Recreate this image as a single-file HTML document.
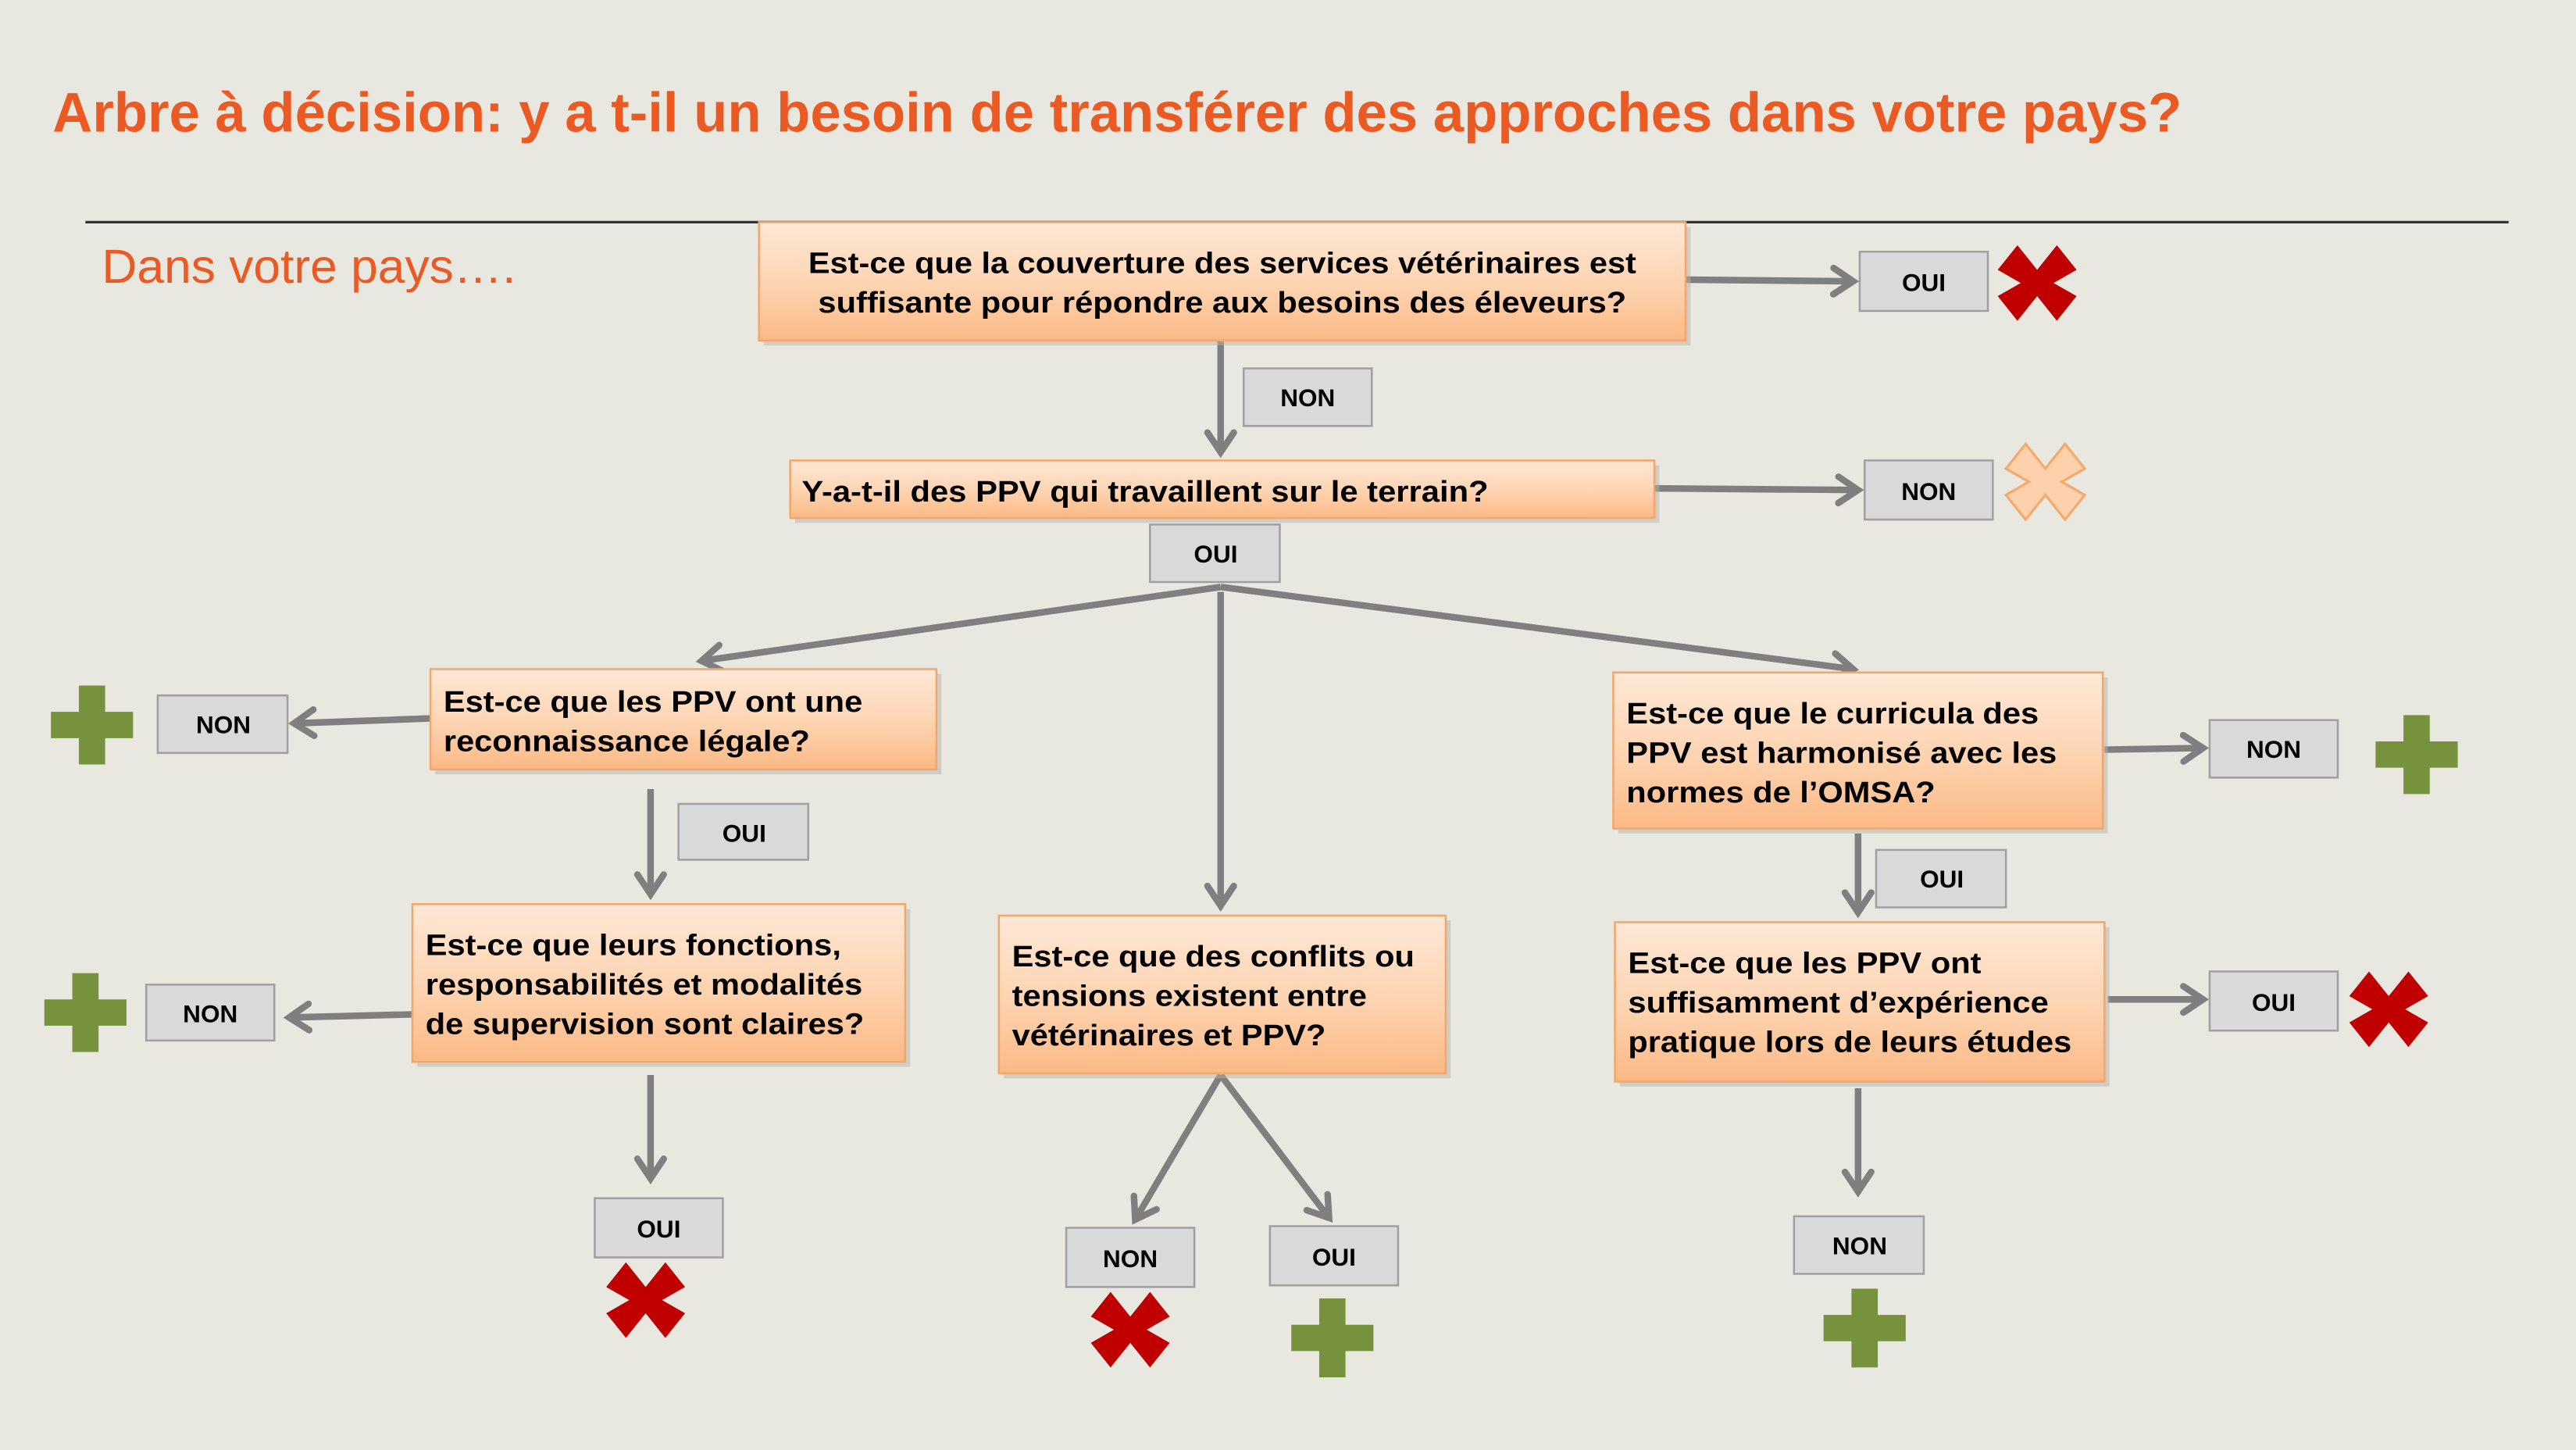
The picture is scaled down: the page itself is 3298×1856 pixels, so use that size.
<!DOCTYPE html>
<html><head><meta charset="utf-8"><style>
html,body{margin:0;padding:0;background:#e8e7e0;}
svg{display:block}
</style></head><body>
<svg width="3298" height="1856" viewBox="0 0 1568 882" xmlns="http://www.w3.org/2000/svg" font-family="Liberation Sans, Arial, sans-serif">
<defs>
<linearGradient id="og" x1="0" y1="0" x2="0" y2="1">
<stop offset="0" stop-color="#fee8d6"/><stop offset="0.55" stop-color="#fdd3b0"/><stop offset="1" stop-color="#fbb985"/>
</linearGradient>
<marker id="ah" markerWidth="30" markerHeight="30" refX="14" refY="10" orient="auto" markerUnits="userSpaceOnUse">
<polyline points="2,2 14,10 2,18" fill="none" stroke="#7f7f7f" stroke-width="4" stroke-linecap="round" stroke-linejoin="miter"/>
</marker>
<g id="x"><polygon points="-12,-23 0,-8 12,-23 24,-8 10,0 24,8 12,23 0,8 -12,23 -24,8 -10,0 -24,-8"/></g>
<g id="p"><polygon points="-8,-24 8,-24 8,-8 25,-8 25,8 8,8 8,24 -8,24 -8,8 -25,8 -25,-8 -8,-8" fill="#76923c"/></g>
</defs>
<rect width="1568" height="882" fill="#e8e7e0"/>
<text x="32" y="80" font-size="34" font-weight="bold" fill="#ec5a24" textLength="1296" lengthAdjust="spacingAndGlyphs">Arbre à décision: y a t-il un besoin de transférer des approches dans votre pays?</text>
<line x1="52" y1="135" x2="1527" y2="135" stroke="#333" stroke-width="1.5"/>
<text x="62" y="172" font-size="29" fill="#ec5a24" textLength="252" lengthAdjust="spacingAndGlyphs">Dans votre pays….</text>

<g stroke="#7f7f7f" stroke-width="4" fill="none" marker-end="url(#ah)">
<line x1="1026" y1="170" x2="1128" y2="171"/>
<line x1="743" y1="207" x2="743" y2="275"/>
<line x1="1007" y1="297" x2="1131" y2="298"/>
<line x1="743" y1="357" x2="427" y2="402"/>
<line x1="743" y1="360" x2="743" y2="551"/>
<line x1="743" y1="357" x2="1128" y2="407"/>
<line x1="262" y1="437" x2="179" y2="440"/>
<line x1="396" y1="480" x2="396" y2="544"/>
<line x1="255" y1="617" x2="176" y2="619"/>
<line x1="1281" y1="456" x2="1341" y2="455"/>
<line x1="1131" y1="507" x2="1131" y2="555"/>
<line x1="1283" y1="608" x2="1341" y2="608"/>
<line x1="396" y1="654" x2="396" y2="717"/>
<line x1="743" y1="654" x2="691" y2="742"/>
<line x1="743" y1="654" x2="809" y2="741"/>
<line x1="1131" y1="662" x2="1131" y2="725"/>
</g>

<g stroke="#f4a56a" stroke-width="1.2">
<rect x="465" y="138" width="564" height="72" fill="#b8b4aa" stroke="none" opacity="0.5"/>
<rect x="462" y="135" width="564" height="72" fill="url(#og)"/>
<rect x="484" y="283" width="526" height="35" fill="#b8b4aa" stroke="none" opacity="0.5"/>
<rect x="481" y="280" width="526" height="35" fill="url(#og)"/>
<rect x="265" y="410" width="308" height="61" fill="#b8b4aa" stroke="none" opacity="0.5"/>
<rect x="262" y="407" width="308" height="61" fill="url(#og)"/>
<rect x="254" y="553" width="300" height="96" fill="#b8b4aa" stroke="none" opacity="0.5"/>
<rect x="251" y="550" width="300" height="96" fill="url(#og)"/>
<rect x="611" y="560" width="272" height="96" fill="#b8b4aa" stroke="none" opacity="0.5"/>
<rect x="608" y="557" width="272" height="96" fill="url(#og)"/>
<rect x="985" y="412" width="298" height="95" fill="#b8b4aa" stroke="none" opacity="0.5"/>
<rect x="982" y="409" width="298" height="95" fill="url(#og)"/>
<rect x="986" y="564" width="298" height="97" fill="#b8b4aa" stroke="none" opacity="0.5"/>
<rect x="983" y="561" width="298" height="97" fill="url(#og)"/>
</g>

<g font-size="18" font-weight="bold" fill="#000">
<text x="744" y="166" text-anchor="middle" textLength="504" lengthAdjust="spacingAndGlyphs">Est-ce que la couverture des services vétérinaires est</text>
<text x="744" y="190" text-anchor="middle" textLength="492" lengthAdjust="spacingAndGlyphs">suffisante pour répondre aux besoins des éleveurs?</text>
<text x="488" y="305" textLength="418" lengthAdjust="spacingAndGlyphs">Y-a-t-il des PPV qui travaillent sur le terrain?</text>
<text x="270" y="433" textLength="255" lengthAdjust="spacingAndGlyphs">Est-ce que les PPV ont une</text>
<text x="270" y="457" textLength="223" lengthAdjust="spacingAndGlyphs">reconnaissance légale?</text>
<text x="259" y="581" textLength="253" lengthAdjust="spacingAndGlyphs">Est-ce que leurs fonctions,</text>
<text x="259" y="605" textLength="266" lengthAdjust="spacingAndGlyphs">responsabilités et modalités</text>
<text x="259" y="629" textLength="267" lengthAdjust="spacingAndGlyphs">de supervision sont claires?</text>
<text x="616" y="588" textLength="245" lengthAdjust="spacingAndGlyphs">Est-ce que des conflits ou</text>
<text x="616" y="612" textLength="216" lengthAdjust="spacingAndGlyphs">tensions existent entre</text>
<text x="616" y="636" textLength="191" lengthAdjust="spacingAndGlyphs">vétérinaires et PPV?</text>
<text x="990" y="440" textLength="251" lengthAdjust="spacingAndGlyphs">Est-ce que le curricula des</text>
<text x="990" y="464" textLength="262" lengthAdjust="spacingAndGlyphs">PPV est harmonisé avec les</text>
<text x="990" y="488" textLength="188" lengthAdjust="spacingAndGlyphs">normes de l’OMSA?</text>
<text x="991" y="592" textLength="215" lengthAdjust="spacingAndGlyphs">Est-ce que les PPV ont</text>
<text x="991" y="616" textLength="256" lengthAdjust="spacingAndGlyphs">suffisamment d’expérience</text>
<text x="991" y="640" textLength="270" lengthAdjust="spacingAndGlyphs">pratique lors de leurs études</text>
</g>

<g font-size="15" font-weight="bold" fill="#000" text-anchor="middle">
<g fill="#d9d9d9" stroke="#a0a0a0" stroke-width="1.2">
<rect x="1132" y="153" width="78" height="36"/>
<rect x="757" y="224" width="78" height="35"/>
<rect x="1135" y="280" width="78" height="36"/>
<rect x="700" y="319" width="79" height="35"/>
<rect x="96" y="423" width="79" height="35"/>
<rect x="413" y="489" width="79" height="34"/>
<rect x="89" y="599" width="78" height="34"/>
<rect x="1345" y="438" width="78" height="35"/>
<rect x="1142" y="517" width="79" height="35"/>
<rect x="1345" y="591" width="78" height="36"/>
<rect x="362" y="729" width="78" height="36"/>
<rect x="649" y="747" width="78" height="36"/>
<rect x="773" y="746" width="78" height="36"/>
<rect x="1092" y="740" width="79" height="35"/>
</g>
<text x="1171" y="177">OUI</text>
<text x="796" y="247">NON</text>
<text x="1174" y="304">NON</text>
<text x="740" y="342">OUI</text>
<text x="136" y="446">NON</text>
<text x="453" y="512">OUI</text>
<text x="128" y="622">NON</text>
<text x="1384" y="461">NON</text>
<text x="1182" y="540">OUI</text>
<text x="1384" y="615">OUI</text>
<text x="401" y="753">OUI</text>
<text x="688" y="771">NON</text>
<text x="812" y="770">OUI</text>
<text x="1132" y="763">NON</text>
</g>

<use href="#x" x="1240" y="172" fill="#c00000"/>
<use href="#x" x="1245" y="293" fill="#fcd1ac" stroke="#f7a86a" stroke-width="1.5"/>
<use href="#x" x="1454" y="614" fill="#c00000"/>
<use href="#x" x="393" y="791" fill="#c00000"/>
<use href="#x" x="688" y="809" fill="#c00000"/>
<use href="#p" x="56" y="441"/>
<use href="#p" x="52" y="616"/>
<use href="#p" x="1471" y="459"/>
<use href="#p" x="811" y="814"/>
<use href="#p" x="1135" y="808"/>
</svg>
</body></html>
